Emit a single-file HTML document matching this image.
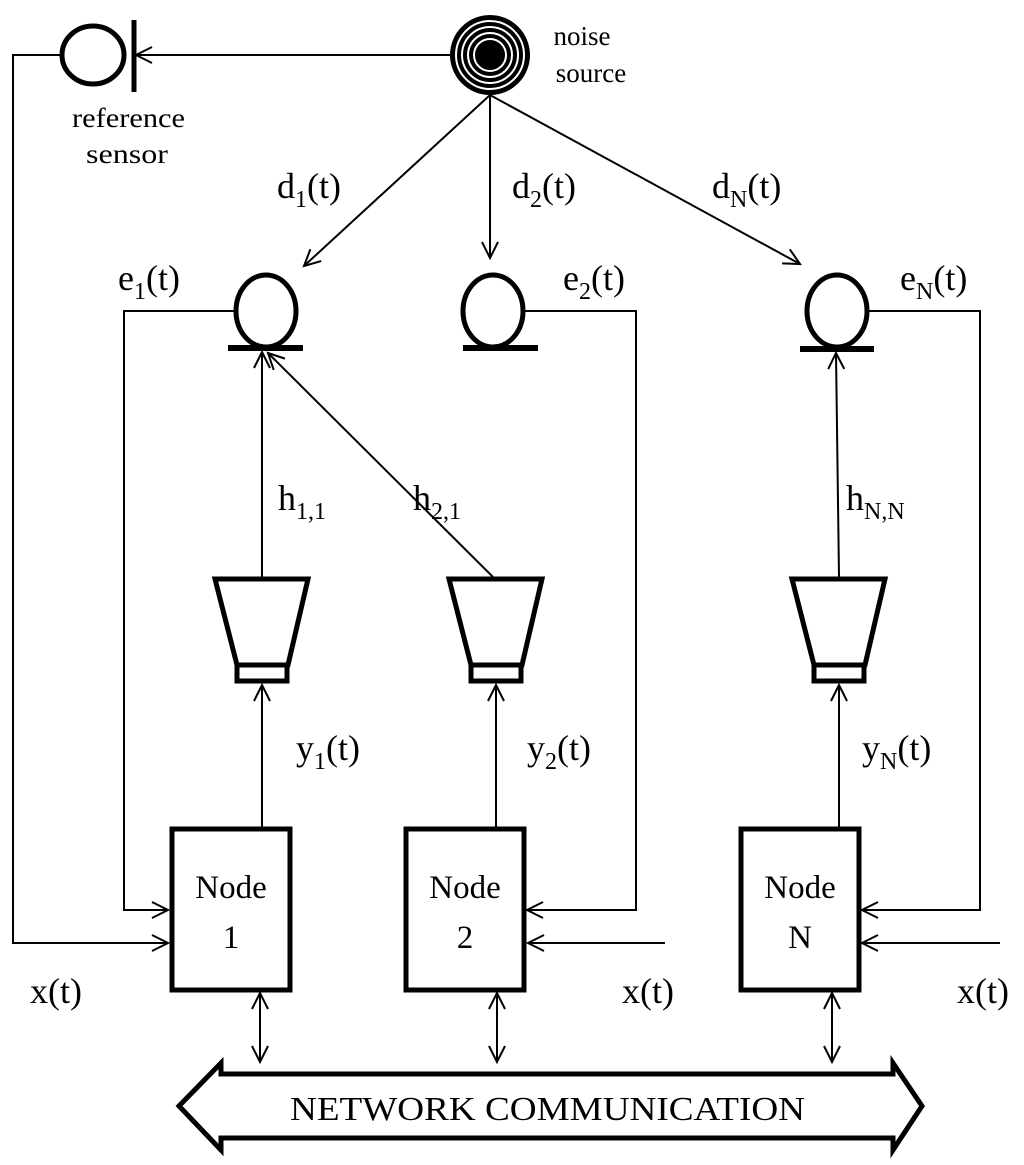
<!DOCTYPE html>
<html><head><style>
html,body{margin:0;padding:0;background:#fff;}
svg{display:block;}
text{font-family:"Liberation Serif",serif;fill:#000;}
</style></head><body>
<svg width="1024" height="1165" viewBox="0 0 1024 1165" xmlns="http://www.w3.org/2000/svg">
<defs>
<marker id="a" markerWidth="20" markerHeight="20" refX="18" refY="10" orient="auto" markerUnits="userSpaceOnUse">
<path d="M2,2 L18,10 L2,18" fill="none" stroke="#000" stroke-width="2"/>
</marker>
<marker id="s" markerWidth="20" markerHeight="20" refX="2" refY="10" orient="auto" markerUnits="userSpaceOnUse">
<path d="M18,2 L2,10 L18,18" fill="none" stroke="#000" stroke-width="2"/>
</marker>
</defs>
<g stroke="#000" fill="none">
<circle cx="490" cy="55" r="40" fill="#000" stroke="none"/>
<circle cx="490" cy="55" r="34" stroke="#fff" stroke-width="2"/>
<circle cx="490" cy="55" r="28" stroke="#fff" stroke-width="2"/>
<circle cx="490" cy="55" r="22" stroke="#fff" stroke-width="2"/>
<circle cx="490" cy="55" r="16" stroke="#fff" stroke-width="2"/>
<ellipse cx="93" cy="55" rx="31" ry="29" stroke-width="5"/>
<line x1="134" y1="20" x2="134" y2="92" stroke-width="5"/>
<line x1="450" y1="55" x2="136" y2="55" stroke-width="2" marker-end="url(#a)"/>
<polyline points="62,55 13,55 13,943 168,943" stroke-width="2" marker-end="url(#a)"/>
<line x1="490" y1="95" x2="304" y2="266" stroke-width="2" marker-end="url(#a)"/>
<line x1="490" y1="95" x2="490" y2="258" stroke-width="2" marker-end="url(#a)"/>
<line x1="490" y1="95" x2="800" y2="264" stroke-width="2" marker-end="url(#a)"/>
<ellipse cx="266" cy="311" rx="30" ry="36" stroke-width="5"/>
<line x1="228" y1="348" x2="303" y2="348" stroke-width="6"/>
<ellipse cx="493" cy="311" rx="30" ry="36" stroke-width="5"/>
<line x1="463" y1="348" x2="538" y2="348" stroke-width="6"/>
<ellipse cx="837" cy="311" rx="30" ry="36" stroke-width="5"/>
<line x1="800" y1="349" x2="874" y2="349" stroke-width="6"/>
<polyline points="236,311 124,311 124,910 168,910" stroke-width="2" marker-end="url(#a)"/>
<polyline points="523,311 636,311 636,910 527,910" stroke-width="2" marker-end="url(#a)"/>
<polyline points="867,311 980,311 980,910 862,910" stroke-width="2" marker-end="url(#a)"/>
<path d="M215,579 L308,579 L288,665 L237,665 Z" stroke-width="5"/>
<rect x="237" y="665" width="50" height="16" stroke-width="5"/>
<path d="M449,579 L542,579 L522,665 L471,665 Z" stroke-width="5"/>
<rect x="471" y="665" width="50" height="16" stroke-width="5"/>
<path d="M792,579 L885,579 L865,665 L814,665 Z" stroke-width="5"/>
<rect x="814" y="665" width="50" height="16" stroke-width="5"/>
<line x1="262" y1="577" x2="262" y2="352" stroke-width="2" marker-end="url(#a)"/>
<line x1="493" y1="577" x2="268" y2="353" stroke-width="2" marker-end="url(#a)"/>
<line x1="839" y1="577" x2="836" y2="353" stroke-width="2" marker-end="url(#a)"/>
<line x1="262" y1="827" x2="262" y2="685" stroke-width="2" marker-end="url(#a)"/>
<line x1="496" y1="827" x2="496" y2="685" stroke-width="2" marker-end="url(#a)"/>
<line x1="839" y1="827" x2="839" y2="685" stroke-width="2" marker-end="url(#a)"/>
<rect x="172" y="829" width="118" height="161" stroke-width="5"/>
<rect x="406" y="829" width="118" height="161" stroke-width="5"/>
<rect x="741" y="829" width="118" height="161" stroke-width="5"/>
<line x1="665" y1="943" x2="528" y2="943" stroke-width="2" marker-end="url(#a)"/>
<line x1="1000" y1="943" x2="862" y2="943" stroke-width="2" marker-end="url(#a)"/>
<line x1="260" y1="993" x2="260" y2="1062" stroke-width="2" marker-start="url(#s)" marker-end="url(#a)"/>
<line x1="497" y1="993" x2="497" y2="1062" stroke-width="2" marker-start="url(#s)" marker-end="url(#a)"/>
<line x1="832" y1="993" x2="832" y2="1062" stroke-width="2" marker-start="url(#s)" marker-end="url(#a)"/>
<path d="M179,1106 L221,1063 L221,1074 L893,1074 L893,1063 L922,1106 L893,1150 L893,1138 L221,1138 L221,1150 Z" stroke-width="5"/>
</g>
<g>
<text x="582" y="45" font-size="27" text-anchor="middle">noise</text>
<text x="591" y="82" font-size="27" text-anchor="middle">source</text>
<text x="72" y="127" font-size="27" textLength="113" lengthAdjust="spacingAndGlyphs">reference</text>
<text x="86" y="163" font-size="27" textLength="82" lengthAdjust="spacingAndGlyphs">sensor</text>
<text x="277" y="198" font-size="36">d<tspan font-size="24" dy="9">1</tspan><tspan dy="-9">(t)</tspan></text>
<text x="512" y="198" font-size="36">d<tspan font-size="24" dy="9">2</tspan><tspan dy="-9">(t)</tspan></text>
<text x="712" y="198" font-size="36">d<tspan font-size="24" dy="9">N</tspan><tspan dy="-9">(t)</tspan></text>
<text x="118" y="290" font-size="36">e<tspan font-size="24" dy="9">1</tspan><tspan dy="-9">(t)</tspan></text>
<text x="563" y="290" font-size="36">e<tspan font-size="24" dy="9">2</tspan><tspan dy="-9">(t)</tspan></text>
<text x="900" y="290" font-size="36">e<tspan font-size="24" dy="9">N</tspan><tspan dy="-9">(t)</tspan></text>
<text x="278" y="510" font-size="36">h<tspan font-size="24" dy="9">1,1</tspan></text>
<text x="413" y="510" font-size="36">h<tspan font-size="24" dy="9">2,1</tspan></text>
<text x="846" y="510" font-size="36">h<tspan font-size="24" dy="9">N,N</tspan></text>
<text x="296" y="760" font-size="36">y<tspan font-size="24" dy="9">1</tspan><tspan dy="-9">(t)</tspan></text>
<text x="527" y="760" font-size="36">y<tspan font-size="24" dy="9">2</tspan><tspan dy="-9">(t)</tspan></text>
<text x="862" y="760" font-size="36">y<tspan font-size="24" dy="9">N</tspan><tspan dy="-9">(t)</tspan></text>
<text x="231" y="898" font-size="33" text-anchor="middle">Node</text>
<text x="231" y="948" font-size="33" text-anchor="middle">1</text>
<text x="465" y="898" font-size="33" text-anchor="middle">Node</text>
<text x="465" y="948" font-size="33" text-anchor="middle">2</text>
<text x="800" y="898" font-size="33" text-anchor="middle">Node</text>
<text x="800" y="948" font-size="33" text-anchor="middle">N</text>
<text x="30" y="1003" font-size="36">x(t)</text>
<text x="622" y="1003" font-size="36">x(t)</text>
<text x="957" y="1003" font-size="36">x(t)</text>
<text x="290" y="1120" font-size="34" textLength="515" lengthAdjust="spacingAndGlyphs">NETWORK COMMUNICATION</text>
</g>
</svg>
</body></html>
